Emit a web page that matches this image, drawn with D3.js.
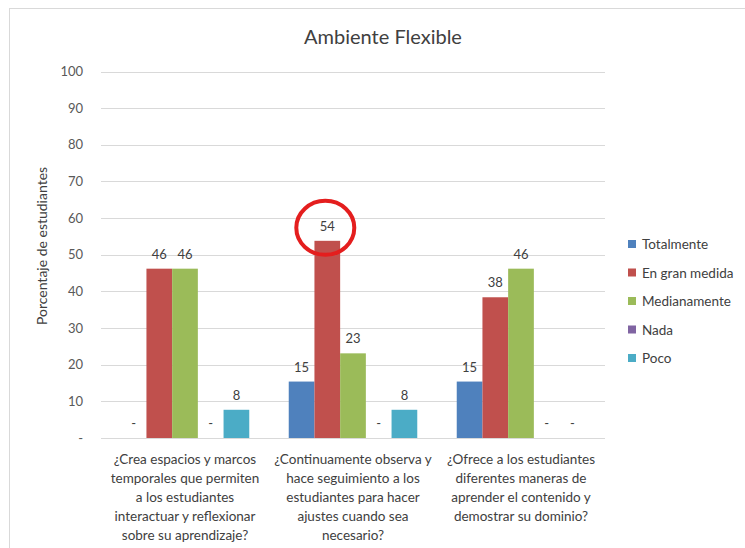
<!DOCTYPE html>
<html>
<head>
<meta charset="utf-8">
<script src="https://cdn.jsdelivr.net/npm/d3@7"></script>
<style>
  body { margin: 0; background: #fff; }
  text { font-family: Lato, "Open Sans", sans-serif; }
</style>
</head>
<body>
<div id="chart"></div>
<script>
var categories = ["c1", "c2", "c3"];
var categoryLines = [
    ["¿Crea espacios y marcos", "temporales que permiten", "a los estudiantes", "interactuar y reflexionar", "sobre su aprendizaje?"],
    ["¿Continuamente observa y", "hace seguimiento a los", "estudiantes para hacer", "ajustes cuando sea", "necesario?"],
    ["¿Ofrece a los estudiantes", "diferentes maneras de", "aprender el contenido y", "demostrar su dominio?"]
];
var seriesNames = ["Totalmente", "En gran medida", "Medianamente", "Nada", "Poco"];
var seriesColors = ["#4f81bd", "#c0504d", "#9bbb59", "#8064a2", "#4bacc6"];
var totalmente = [0, 15.4, 15.4];
var enGranMedida = [46.2, 53.8, 38.4];
var medianamente = [46.2, 23.1, 46.2];
var nada = [0, 0, 0];
var poco = [7.7, 7.7, 0];
var yTicks = [0, 10, 20, 30, 40, 50, 60, 70, 80, 90, 100];
var highlight = {cat: 1, series: 1}; // circled value

var values = [totalmente, enGranMedida, medianamente, nada, poco];

var W = 745, H = 548,
    margin = {top: 71.5, left: 101, right: 140, bottom: 110};

var svg = d3.select("#chart").append("svg")
    .attr("width", W)
    .attr("height", H);

svg.append("rect")
    .attr("x", 9.5).attr("y", 8.5)
    .attr("width", W).attr("height", H)
    .attr("fill", "#fff")
    .attr("stroke", "#d9d9d9");

var x0 = d3.scaleBand().domain(categories).range([margin.left, W - margin.right]).paddingInner(0.235).paddingOuter(0.1175);
var x1 = d3.scaleBand().domain(seriesNames).range([0, x0.bandwidth()]);
var y = d3.scaleLinear().domain([0, 100]).range([438, margin.top]);

// gridlines
svg.append("g").selectAll("line")
    .data(yTicks)
    .enter().append("line")
    .attr("x1", margin.left).attr("x2", W - margin.right)
    .attr("y1", d => Math.round(y(d)) + 0.5)
    .attr("y2", d => Math.round(y(d)) + 0.5)
    .attr("stroke", "#d9d9d9")
    .attr("stroke-width", 1.2);

var yAxis = d3.axisLeft(y).tickValues(yTicks).tickSize(0).tickPadding(0)
    .tickFormat(d => d === 0 ? "-" : d);
svg.append("g")
    .attr("transform", "translate(83,0)")
    .call(yAxis)
    .call(g => g.select(".domain").remove())
    .selectAll("text")
    .attr("fill", "#595959")
    .style("font-size", "13px");

svg.append("text")
    .attr("transform", "translate(47,246) rotate(-90)")
    .attr("text-anchor", "middle")
    .attr("fill", "#404040")
    .style("font-size", "14px")
    .text("Porcentaje de estudiantes");

svg.append("text")
    .attr("x", 383).attr("y", 44)
    .attr("text-anchor", "middle")
    .attr("fill", "#404040")
    .style("font-size", "20px")
    .text("Ambiente Flexible");

// bars
var cells = [];
categories.forEach((c, ci) => {
    seriesNames.forEach((s, si) => {
        cells.push({cat: c, ci: ci, series: s, si: si, v: values[si][ci]});
    });
});

svg.append("g").selectAll("rect")
    .data(cells.filter(d => d.v > 0))
    .enter().append("rect")
    .attr("x", d => x0(d.cat) + x1(d.series))
    .attr("y", d => y(d.v))
    .attr("width", x1.bandwidth())
    .attr("height", d => y(0) - y(d.v))
    .attr("fill", d => seriesColors[d.si]);

// value labels, zero shown as "-"
var fmt = d3.format(".0f");
svg.append("g").selectAll("text")
    .data(cells)
    .enter().append("text")
    .attr("x", d => x0(d.cat) + x1(d.series) + x1.bandwidth() / 2)
    .attr("y", d => y(d.v) - 10)
    .attr("text-anchor", "middle")
    .attr("fill", "#404040")
    .style("font-size", "13px")
    .text(d => d.v === 0 ? "-" : fmt(d.v));

// x axis line
svg.append("line")
    .attr("x1", margin.left).attr("x2", W - margin.right)
    .attr("y1", 438.5).attr("y2", 438.5)
    .attr("stroke", "#d9d9d9")
    .attr("stroke-width", 1.2);

// category labels
categories.forEach((c, ci) => {
    var t = svg.append("text")
        .attr("text-anchor", "middle")
        .attr("fill", "#404040")
        .style("font-size", "13.5px");
    categoryLines[ci].forEach((line, li) => {
        t.append("tspan")
            .attr("x", x0(c) + x0.bandwidth() / 2)
            .attr("y", 464 + li * 19)
            .text(line);
    });
});

// highlight circle
var hc = cells.find(d => d.ci === highlight.cat && d.si === highlight.series);
svg.append("ellipse")
    .attr("cx", x0(hc.cat) + x1(hc.series) + x1.bandwidth() / 2 - 2)
    .attr("cy", y(hc.v) - 13)
    .attr("rx", 29)
    .attr("ry", 27)
    .attr("fill", "none")
    .attr("stroke", "#e41e1e")
    .attr("stroke-width", 4);

// legend
var legend = svg.append("g").selectAll("g")
    .data(seriesNames)
    .enter().append("g")
    .attr("transform", (d, i) => "translate(628," + (244 + i * 28.5) + ")");
legend.append("rect")
    .attr("x", 0).attr("y", -4)
    .attr("width", 8).attr("height", 8)
    .attr("fill", (d, i) => seriesColors[i]);
legend.append("text")
    .attr("x", 14).attr("y", 5)
    .attr("fill", "#404040")
    .style("font-size", "13.5px")
    .text(d => d);
</script>
</body>
</html>
